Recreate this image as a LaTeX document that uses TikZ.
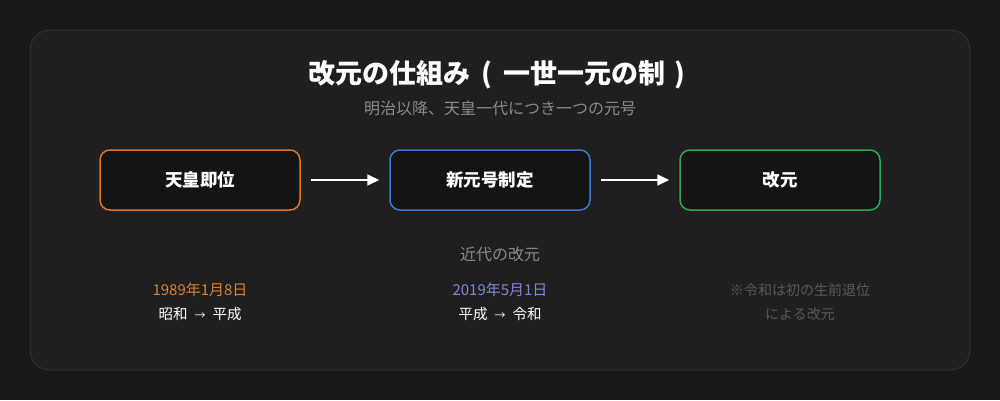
\documentclass[tikz,border=0pt]{standalone}
\usepackage{fontspec}
\setmainfont{Noto Sans CJK JP}
\usetikzlibrary{arrows.meta}
\definecolor{bg}{HTML}{181818}
\definecolor{panel}{HTML}{1F1F1F}
\definecolor{panelline}{HTML}{303030}
\definecolor{boxfill}{HTML}{141414}
\definecolor{corange}{HTML}{D9782E}
\definecolor{cblue}{HTML}{3F78CC}
\definecolor{cgreen}{HTML}{2EA855}
\definecolor{dateorange}{HTML}{E07F2E}
\definecolor{datepurple}{HTML}{7F88DD}
\definecolor{subgray}{HTML}{8A8A8A}
\definecolor{notegray}{HTML}{5A5A5A}
\tikzset{
  stepbox/.style={draw, line width=1.5pt, rounded corners=10pt, fill=boxfill,
    minimum width=200pt, minimum height=60pt, text=white, font=\fontsize{17.5}{20}\selectfont\bfseries},
  flow/.style={draw=white, line width=1.5pt, -{Triangle[length=12pt,width=11pt]}},
  lbl/.style={inner sep=0pt},
}
\newcommand{\myarr}{\hspace{7pt}{\fontsize{11}{13}\selectfont →}\hspace{7pt}}
\begin{document}
\begin{tikzpicture}[x=1pt,y=-1pt]
\fill[bg] (0,0) rectangle (1000,400);
\useasboundingbox (0,0) rectangle (1000,400);
\draw[panelline, fill=panel, line width=1pt, rounded corners=20pt] (30,30) rectangle (970,370);
\node[lbl, text=white, font=\fontsize{27}{31}\selectfont\bfseries] (title) at (497,75) {改元の仕組み\hspace{11pt}(\hspace{11pt}一世一元の制\hspace{9pt})};
\node[lbl, text=subgray, font=\fontsize{16}{19}\selectfont] (sub) at (500,108) {明治以降、天皇一代につき一つの元号};
\node[stepbox, draw=corange] (a) at (200,180) {天皇即位};
\node[stepbox, draw=cblue] (b) at (490,180) {新元号制定};
\node[stepbox, draw=cgreen] (c) at (780,180) {改元};
\draw[flow] ([xshift=10pt]a.east) -- ([xshift=-10pt]b.west);
\draw[flow] ([xshift=10pt]b.east) -- ([xshift=-10pt]c.west);
\node[lbl, text=subgray, font=\fontsize{16}{19}\selectfont] (modern) at (500,254) {近代の改元};
\node[lbl, text=dateorange, font=\fontsize{15}{18}\selectfont] (d1) at (200,290) {1989年1月8日};
\node[lbl, text=white, font=\fontsize{14.5}{17}\selectfont] (e1) at (200,314) {昭和\myarr 平成};
\node[lbl, text=datepurple, font=\fontsize{15}{18}\selectfont] (d2) at (500,290) {2019年5月1日};
\node[lbl, text=white, font=\fontsize{14.5}{17}\selectfont] (e2) at (500,314) {平成\myarr 令和};
\node[lbl, text=notegray, font=\fontsize{14}{17}\selectfont] (n1) at (800,290) {※令和は初の生前退位};
\node[lbl, text=notegray, font=\fontsize{14}{17}\selectfont] (n2) at (800,314) {による改元};
\end{tikzpicture}
\end{document}
